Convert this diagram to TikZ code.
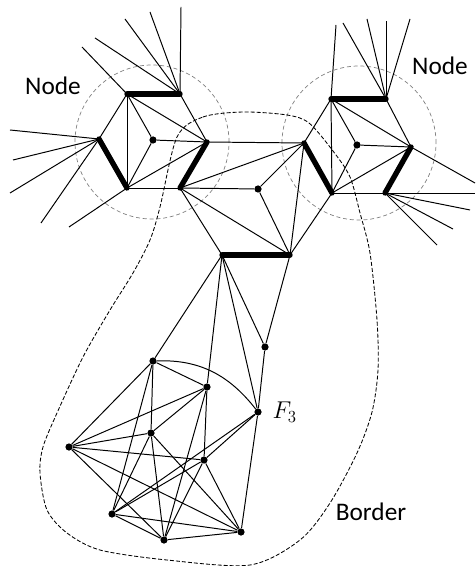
\documentclass[tikz,border=0pt]{standalone}
\usepackage{fontspec}
\setmainfont{Carlito}
\usetikzlibrary{positioning}

\begin{document}
\begin{tikzpicture}[x=0.25mm, y=-0.25mm,
  dot/.style={circle, fill, black, minimum size=1.8mm, inner sep=0pt},
  link/.style={line width=0.7pt},
  pairbar/.style={line width=3.8pt, line cap=round},
  ring/.style={gray, line width=0.5pt, dash pattern=on 1mm off 0.7mm},
  rim/.style={line width=0.6pt, dash pattern=on 1mm off 0.5mm},
  lbl/.style={font=\fontsize{18}{20}\selectfont}]
  \useasboundingbox (0,0) rectangle (475,566);

  % the two nodes and the border around the middle part
  \draw[ring] (152,142) circle[radius=19.25mm];
  \draw[ring] (359,143) circle[radius=19.25mm];
  \draw[rim] plot[smooth cycle] coordinates {
    (177,137) (203,117) (243,112) (287,115) (309,123) (333,151) (350,177)
    (360,213) (370,253) (377,320) (378,370) (372,412) (357,453) (330,503)
    (300,540) (250,565) (167,560) (100,550) (67,533) (47,510) (40,473)
    (43,447) (57,413) (83,357) (110,310) (133,273) (150,240) (160,207)};

  % left node
  \coordinate (a1) at (127,94);
  \coordinate (a2) at (180,94);
  \coordinate (a3) at (99,139);
  \coordinate (a4) at (127,188);
  \coordinate (a5) at (207,142);
  \coordinate (a6) at (180,188);
  \node[dot] (ac) at (153,140) {};

  % right node
  \coordinate (b1) at (331,99);
  \coordinate (b2) at (386,99);
  \coordinate (b3) at (304,143);
  \coordinate (b4) at (332,193);
  \coordinate (b5) at (411,147);
  \coordinate (b6) at (385,193);
  \node[dot] (bc) at (357,145) {};

  % middle and lower bar
  \node[dot] (m) at (258,189) {};
  \coordinate (c1) at (222,255);
  \coordinate (c2) at (290,255);
  \node[dot] (d) at (265,347) {};

  % bottom cluster
  \node[dot] (p1) at (153,361) {};
  \node[dot] (p2) at (207,387) {};
  \node[dot] (f3) at (258,412) {};
  \node[dot] (p3) at (151,433) {};
  \node[dot] (p4) at (69,447) {};
  \node[dot] (p5) at (204,460) {};
  \node[dot] (p6) at (112,514) {};
  \node[dot] (p7) at (164,540) {};
  \node[dot] (p8) at (241,532) {};

  % loose ends
  \foreach \v/\x/\y [count=\i] in {a2/181/7, a2/150/12, a2/125/19, a2/95/38,
      a1/82/47, a3/10/130, a3/13/160, a3/10/193, a3/41/223, a4/69/227,
      b1/336/25, b2/343/23, b2/367/19, b2/386/21, b2/410/19, b5/475/183,
      b6/475/193, b6/470/210, b6/453/229, b6/437/245} {
    \coordinate (s\i) at (\x,\y);
    \draw[link] (\v) -- (s\i);
  }

  \foreach \u/\v in {a1/a3, a1/a4, a1/ac, a1/a5, a2/a5, ac/a5, ac/a4, a4/a5, a4/a6,
      b1/b3, b1/b4, b1/bc, b1/b5, b2/b5, bc/b5, bc/b4, b4/b5, b4/b6,
      a5/b3, a6/b3, a6/m, a6/c1, a6/c2, m/b3, m/c2, b3/c2, b4/c2,
      c1/p1, c1/p2, c1/d, c1/f3, c2/d, d/f3, f3/p8,
      p1/p2, p1/p3, p1/p4, p1/p6,
      p2/p3, p2/p4, p2/p5, p2/p7,
      p3/p4, p3/p6, p3/p7, p3/p8,
      p4/p5, p4/p7, p4/p8,
      p5/p6, p5/p7, p5/p8, p5/f3,
      p6/p7, p6/p8, p6/f3, p7/p8}
    \draw[link] (\u) -- (\v);
  \draw[link] (p1) to[out=2, in=128] (f3);

  % thick pairs
  \foreach \u/\v in {a1/a2, a3/a4, a5/a6, b1/b2, b3/b4, b5/b6, c1/c2}
    \draw[pairbar] (\u) -- (\v);

  \node[lbl] (nodel) at (53,86) {Node};
  \node[lbl] (noder) at (440,66) {Node};
  \node[lbl] (borderlbl) at (371,512) {Border};
  \node[right=2.6mm of f3, inner sep=0pt, font=\fontsize{17}{20}\selectfont] (f3lbl) {$F_3$};
\end{tikzpicture}
\end{document}
